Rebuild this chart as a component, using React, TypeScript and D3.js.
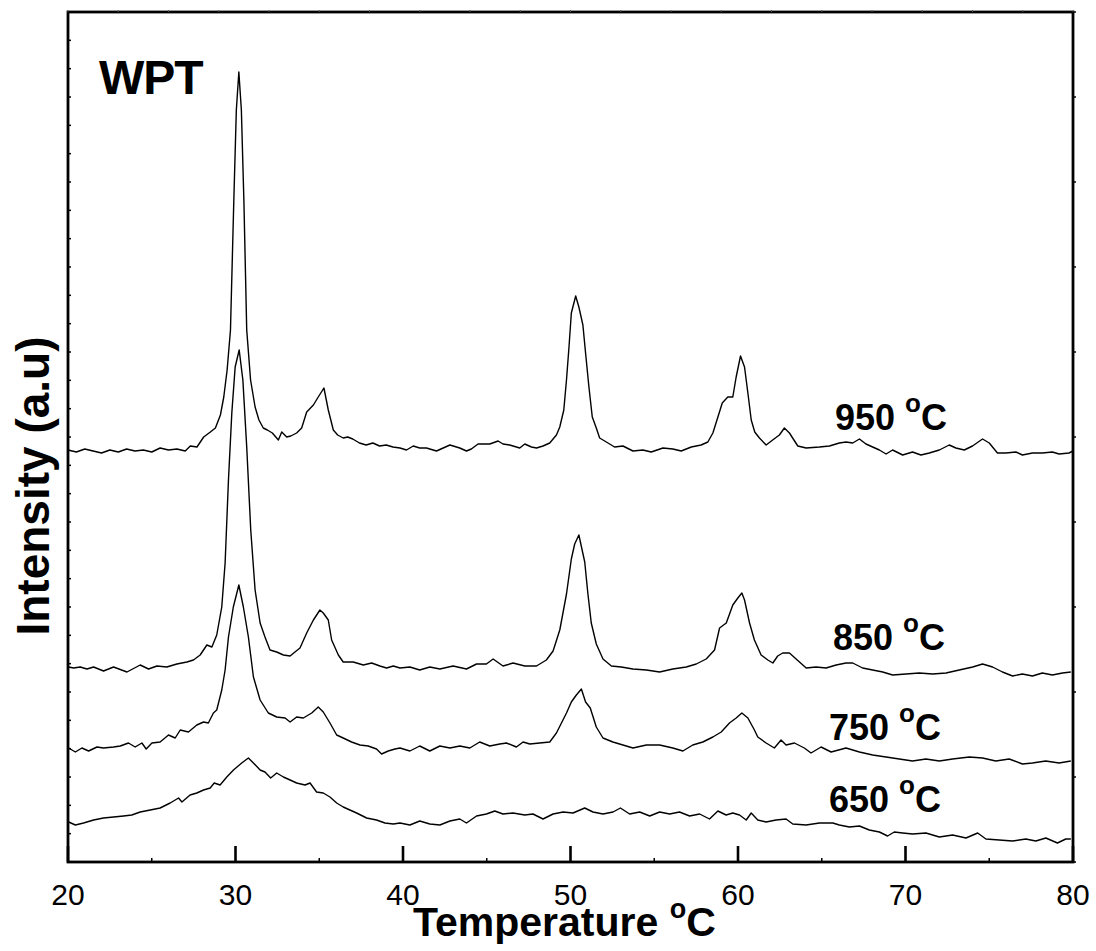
import React from "react";
import * as d3 from "d3";

// ---- data (x = 2θ / temperature axis value, v = intensity, arbitrary units) ----
const s950: [number, number][] = [
  [20.0,412],[20.5,410],[21.0,413],[21.5,411],[22.0,409],[22.5,412],[23.0,410],[23.5,413],[24.0,411],[24.5,412],
  [25.0,410],[25.5,414],[26.0,412],[26.5,413],[27.0,411],[27.3,416],[27.7,415],[28.1,425],[28.5,430],[28.8,434],
  [29.1,447],[29.3,465],[29.5,492],[29.7,532],[29.9,662],[30.05,752],[30.2,790],[30.35,752],[30.5,662],[30.67,532],
  [30.9,482],[31.17,455],[31.4,442],[31.66,434],[31.9,432],[32.2,429],[32.56,422],[32.76,430],[33.06,425],[33.3,426],
  [33.65,429],[33.95,434],[34.25,450],[34.65,457],[34.94,465],[35.28,474],[35.54,452],[35.84,432],[36.1,427],[36.43,424],
  [36.7,425],[37.0,423],[37.4,419],[37.8,417],[38.2,419],[38.6,416],[39.0,417],[39.4,415],[39.82,414],[40.21,412],
  [40.61,416],[41.0,414],[41.4,414],[42.0,411],[42.8,417],[43.39,414],[43.79,411],[44.08,413],[44.48,418],[45.18,418],
  [45.68,421],[45.97,418],[46.37,417],[46.97,414],[47.27,418],[47.67,415],[47.97,414],[48.36,416],[48.76,419],[49.16,427],
  [49.36,435],[49.6,452],[49.76,482],[49.91,515],[50.05,549],[50.31,566],[50.5,555],[50.74,537],[50.9,509],[51.1,475],
  [51.3,445],[51.54,434],[51.74,424],[52.14,420],[52.63,415],[53.13,416],[53.73,411],[54.32,412],[54.82,410],[55.52,414],
  [56.11,413],[56.61,411],[57.21,415],[57.8,417],[58.2,420],[58.5,429],[58.8,445],[59.06,459],[59.39,465],[59.69,465],
  [59.89,485],[60.15,506],[60.39,495],[60.59,469],[60.79,442],[61.0,430],[61.28,424],[61.68,417],[62.07,422],[62.47,427],
  [62.77,434],[63.07,429],[63.57,416],[64.07,414],[64.86,415],[65.46,416],[66.05,419],[66.45,420],[66.85,419],[67.25,423],
  [67.64,418],[68.04,415],[68.44,412],[68.84,408],[69.23,412],[69.83,407],[70.42,410],[70.92,407],[71.42,409],[72.02,412],
  [72.61,417],[73.01,414],[73.51,412],[74.0,416],[74.6,423],[75.0,419],[75.49,409],[75.99,409],[76.59,410],[76.98,407],
  [77.58,409],[78.17,409],[78.77,410],[79.17,408],[79.76,409],[80.0,411],
];

const s850: [number, number][] = [
  [20.04,195],[20.33,194],[20.73,195],[21.13,193],[21.53,195],[22.12,191],[22.72,195],[23.52,190],[24.31,197],[24.81,193],
  [25.31,196],[25.9,195],[26.5,198],[27.1,200],[27.49,202],[27.89,207],[28.29,217],[28.59,215],[28.88,227],[29.18,255],
  [29.38,299],[29.58,382],[29.78,449],[29.98,495],[30.22,512],[30.44,482],[30.67,415],[30.91,332],[31.17,272],[31.47,239],
  [31.76,225],[32.06,212],[32.46,210],[32.86,207],[33.26,206],[33.55,210],[33.85,214],[34.25,229],[34.65,242],[35.04,252],
  [35.24,249],[35.54,242],[35.74,222],[36.14,207],[36.43,200],[37.03,200],[37.63,197],[38.13,199],[38.62,196],[39.02,194],
  [39.42,196],[39.82,194],[40.41,195],[41.0,192],[41.6,195],[42.2,193],[42.99,196],[43.79,193],[44.39,198],[44.98,198],
  [45.38,203],[45.97,196],[46.57,199],[47.27,196],[47.97,196],[48.56,202],[48.96,211],[49.36,232],[49.76,268],[50.05,303],
  [50.25,318],[50.5,327],[50.85,300],[51.04,268],[51.24,239],[51.54,218],[51.94,203],[52.44,196],[53.03,195],[53.73,193],
  [54.53,192],[55.32,190],[56.11,193],[56.91,195],[57.51,198],[58.1,203],[58.6,212],[58.9,234],[59.3,239],[59.69,257],
  [59.99,264],[60.23,269],[60.39,262],[60.69,239],[60.98,222],[61.38,207],[61.78,202],[62.08,199],[62.37,206],[62.67,209],
  [63.07,209],[63.47,203],[64.07,194],[64.66,195],[65.26,194],[65.86,197],[66.45,199],[66.85,199],[67.44,194],[68.04,192],
  [68.64,190],[69.23,187],[70.03,188],[70.82,189],[71.62,188],[72.42,189],[73.21,192],[74.01,195],[74.6,198],[75.2,195],
  [75.79,190],[76.39,186],[76.98,188],[77.58,186],[78.17,189],[78.77,187],[79.37,189],[79.87,190],
];

const s750: [number, number][] = [
  [20.04,114],[20.44,110],[20.83,114],[21.23,111],[21.73,115],[22.12,114],[22.72,115],[23.12,116],[23.61,119],[24.01,115],
  [24.41,119],[24.67,113],[25.01,119],[25.5,120],[26.0,127],[26.4,124],[26.7,132],[27.19,130],[27.69,137],[28.09,140],
  [28.38,139],[28.68,149],[28.88,152],[29.18,172],[29.38,192],[29.58,225],[29.87,255],[30.2,277],[30.47,255],[30.77,225],
  [31.07,185],[31.47,162],[31.96,149],[32.46,145],[32.96,144],[33.26,140],[33.65,145],[34.05,144],[34.55,149],[34.94,155],
  [35.24,150],[35.64,139],[36.04,127],[36.43,124],[36.93,120],[37.43,117],[37.92,116],[38.42,113],[38.72,108],[39.12,111],
  [39.52,113],[39.82,114],[40.41,111],[41.0,116],[41.6,111],[42.2,116],[42.8,114],[43.39,116],[43.99,114],[44.58,120],
  [45.18,116],[45.78,118],[46.18,119],[46.77,115],[47.17,120],[47.57,118],[48.16,119],[48.76,120],[49.16,129],[49.46,139],
  [49.76,149],[50.05,160],[50.35,167],[50.65,173],[50.9,160],[51.18,154],[51.54,135],[51.94,124],[52.53,120],[53.13,117],
  [53.73,114],[54.53,117],[55.32,117],[56.11,114],[56.71,111],[57.3,117],[57.9,120],[58.5,125],[59.0,130],[59.49,139],
  [59.89,144],[60.23,149],[60.59,144],[60.98,132],[61.18,125],[61.68,119],[62.17,114],[62.57,122],[62.87,117],[63.37,119],
  [63.96,114],[64.36,109],[64.96,115],[65.56,110],[66.45,114],[67.25,110],[68.04,107],[68.84,105],[69.63,103],[70.42,101],
  [71.22,103],[72.02,101],[72.81,103],[73.81,105],[74.6,104],[75.39,101],[76.19,103],[76.98,98],[77.58,99],[78.37,101],
  [79.17,99],[79.87,101],
];

const s650: [number, number][] = [
  [20.04,40],[20.44,37],[20.93,39],[21.53,42],[22.12,44],[22.72,45],[23.32,46],[23.81,47],[24.31,50],[24.91,52],
  [25.5,54],[26.1,59],[26.6,64],[26.8,60],[27.29,67],[27.69,69],[28.09,72],[28.49,74],[28.73,79],[29.08,77],
  [29.48,85],[29.88,92],[30.37,99],[30.77,104],[31.07,99],[31.47,92],[31.76,90],[32.1,84],[32.46,89],[32.86,85],
  [33.26,82],[33.65,79],[34.15,77],[34.45,79],[34.84,70],[35.24,69],[35.64,65],[36.04,59],[36.43,55],[36.83,52],
  [37.23,49],[37.83,44],[38.42,42],[38.92,39],[39.42,38],[39.82,39],[40.41,37],[41.0,41],[41.6,38],[42.2,37],
  [42.8,41],[43.39,43],[43.79,39],[44.39,46],[44.98,48],[45.48,51],[45.97,48],[46.57,49],[47.27,47],[47.76,48],
  [48.36,43],[48.96,48],[49.56,50],[50.15,49],[50.85,54],[51.34,50],[51.94,48],[52.54,50],[52.98,54],[53.53,48],
  [54.13,50],[54.73,46],[55.32,50],[55.92,48],[56.51,50],[57.11,46],[57.71,48],[58.3,43],[58.8,51],[59.29,47],
  [59.69,49],[60.09,47],[60.49,42],[60.79,49],[61.18,42],[61.68,40],[62.27,42],[62.87,43],[63.27,38],[64.07,37],
  [64.86,39],[65.66,39],[66.05,37],[66.65,35],[67.25,36],[67.84,32],[68.44,30],[68.93,26],[69.33,30],[69.83,29],
  [70.42,28],[71.22,29],[72.02,25],[72.81,27],[73.61,24],[74.31,29],[74.8,23],[75.6,22],[76.39,21],[77.18,23],
  [77.78,21],[78.38,24],[79.07,19],[79.57,23],[79.87,23],
];

const seriesList = [s950, s850, s750, s650];
const seriesLabels = ["950", "850", "750", "650"];
const xTickValues = [20, 30, 40, 50, 60, 70, 80];
const xMinorValues = [25, 35, 45, 55, 65, 75];

// ---- layout ----
const W = 1096;
const H = 951;
const L = 68;
const R = 1073;
const T = 12;
const B = 862;
const FONT = "'Liberation Sans', Arial, Helvetica, sans-serif";

// label layout (pixel positions)
const labelPos = [
  { x: 835, y: 430 },
  { x: 833, y: 650 },
  { x: 829, y: 740 },
  { x: 829, y: 812 },
];

export default function App() {
  const x = d3.scaleLinear().domain([20, 80]).range([L, R]);
  const y = d3.scaleLinear().domain([0, 850]).range([B, T]);
  const line = d3
    .line<[number, number]>()
    .x((d) => x(d[0]))
    .y((d) => y(d[1]));

  const leftTicks = d3.range(0, 31).map((i) => T + ((B - T) * i) / 30);
  const rightTicks = d3.range(0, 11).map((i) => T + ((B - T) * i) / 10);
  const topTicks = d3.range(0, 21).map((i) => L + ((R - L) * i) / 20);

  return (
    <svg
      width={W}
      height={H}
      style={{ position: "absolute", left: 0, top: 0, background: "#fff" }}
      fontFamily={FONT}
    >
      <rect x={0} y={0} width={W} height={H} fill="#fff" />
      {/* curves */}
      {seriesList.map((s, i) => (
        <path key={i} d={line(s) || ""} fill="none" stroke="#000" strokeWidth={1.4} strokeLinejoin="round" />
      ))}

      {/* frame */}
      <rect x={L} y={T} width={R - L} height={B - T} fill="none" stroke="#000" strokeWidth={2.8} />

      {/* bottom ticks */}
      {xTickValues.map((v) => (
        <line key={"M" + v} x1={x(v)} x2={x(v)} y1={B} y2={B - 16} stroke="#000" strokeWidth={2.6} />
      ))}
      {xMinorValues.map((v) => (
        <line key={"m" + v} x1={x(v)} x2={x(v)} y1={B} y2={B - 4} stroke="#000" strokeWidth={1.5} />
      ))}
      {/* left / right / top small ticks */}
      {leftTicks.map((ty, i) => (
        <line key={"l" + i} x1={L} x2={L + 3} y1={ty} y2={ty} stroke="#000" strokeWidth={1.5} />
      ))}
      {rightTicks.map((ty, i) => (
        <line key={"r" + i} x1={R} x2={R + 3} y1={ty} y2={ty} stroke="#000" strokeWidth={1.5} />
      ))}
      {topTicks.map((tx, i) => (
        <line key={"t" + i} x1={tx} x2={tx} y1={T} y2={T - 2} stroke="#555" strokeWidth={1} />
      ))}

      {/* x tick labels */}
      {xTickValues.map((v) => (
        <text key={"tl" + v} x={x(v)} y={905} fontSize={30} textAnchor="middle" fill="#000">
          {v}
        </text>
      ))}

      {/* axis titles */}
      <text x={413} y={936} fontSize={41} fontWeight="bold" fill="#000">
        Temperature{" "}
        <tspan dy={-18} fontSize={27}>o</tspan>
        <tspan dy={18}>C</tspan>
      </text>
      <text
        transform={`translate(49, 486) rotate(-90)`}
        fontSize={46}
        fontWeight="bold"
        textAnchor="middle"
        fill="#000"
      >
        Intensity (a.u)
      </text>

      {/* WPT label */}
      <text x={99} y={94} fontSize={48} fontWeight="bold" fill="#000" letterSpacing={-1}>
        WPT
      </text>

      {/* series labels */}
      {seriesLabels.map((lab, i) => (
        <text key={"sl" + i} x={labelPos[i].x} y={labelPos[i].y} fontSize={36} fontWeight="bold" fill="#000">
          {lab}{" "}
          <tspan dy={-18} fontSize={26}>o</tspan>
          <tspan dy={18}>C</tspan>
        </text>
      ))}
    </svg>
  );
}
